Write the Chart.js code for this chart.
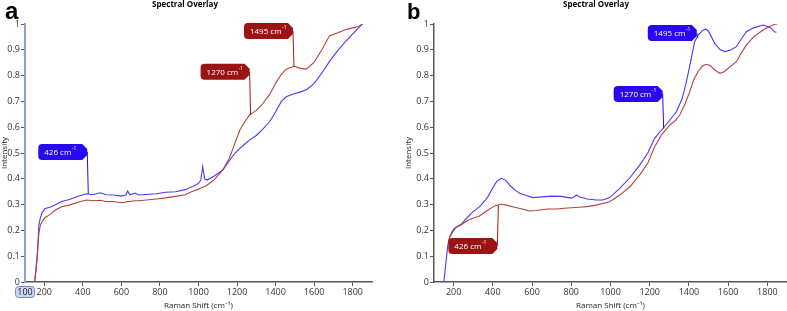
<!DOCTYPE html>
<html lang="en">
<head>
  <meta charset="UTF-8">
  <title>Spectral Overlay</title>
  <script src="https://cdn.jsdelivr.net/npm/chart.js"></script>
  <style>
    body { margin: 0; background: #fff; }
    .panel { position: absolute; top: 0; }
    #panelA { left: 0; }
    #panelB { left: 390px; }
  </style>
</head>
<body>
<div class="panel" id="panelA"><canvas id="chartA" width="390" height="311"></canvas></div>
<div class="panel" id="panelB"><canvas id="chartB" width="397" height="311"></canvas></div>

<script>
  // tick labels
  const xTicks = [200, 400, 600, 800, 1000, 1200, 1400, 1600, 1800];
  const yTicks = [0, 0.1, 0.2, 0.3, 0.4, 0.5, 0.6, 0.7, 0.8, 0.9, 1];
  const yLabels = ['0', '0.1', '0.2', '0.3', '0.4', '0.5', '0.6', '0.7', '0.8', '0.9', '1'];

  // panel a  (Raman shift, cm-1)
  const aShift = [150, 158, 165, 172, 180, 190, 205, 230, 260, 290, 330, 380, 420, 450, 490, 520, 560, 600,
    625, 632, 645, 670, 690, 730, 780, 830, 880, 930, 970, 1000, 1012, 1022, 1032, 1045, 1080, 1126, 1160,
    1190, 1215, 1240, 1264, 1300, 1330, 1370, 1400, 1430, 1455, 1495, 1530, 1560, 1600, 1640, 1680, 1720,
    1760, 1800, 1830, 1850];
  const aBlue = [0, 0.06, 0.12, 0.22, 0.25, 0.27, 0.285, 0.29, 0.3, 0.312, 0.32, 0.333, 0.342, 0.338, 0.346,
    0.338, 0.337, 0.333, 0.338, 0.353, 0.338, 0.345, 0.337, 0.339, 0.342, 0.348, 0.35, 0.358, 0.37, 0.382,
    0.395, 0.447, 0.4, 0.395, 0.41, 0.434, 0.47, 0.5, 0.518, 0.535, 0.55, 0.568, 0.59, 0.622, 0.66, 0.7,
    0.718, 0.73, 0.737, 0.745, 0.77, 0.81, 0.855, 0.895, 0.93, 0.962, 0.985, 1.0];
  const aRed = [0, 0.05, 0.11, 0.19, 0.22, 0.235, 0.25, 0.262, 0.28, 0.292, 0.298, 0.31, 0.318, 0.315, 0.317,
    0.312, 0.312, 0.307, 0.31, 0.312, 0.312, 0.315, 0.315, 0.318, 0.322, 0.326, 0.332, 0.338, 0.352, 0.36,
    0.364, 0.367, 0.37, 0.376, 0.395, 0.434, 0.48, 0.54, 0.59, 0.62, 0.647, 0.665, 0.688, 0.728, 0.77, 0.805,
    0.825, 0.836, 0.828, 0.825, 0.852, 0.9, 0.955, 0.965, 0.978, 0.985, 0.99, 1.0];

  // panel b
  const bBlueShift = [150, 160, 170, 180, 200, 214, 240, 270, 298, 330, 360, 375, 400, 420, 443, 465, 490,
    515, 537, 570, 604, 650, 700, 750, 800, 815, 826, 840, 880, 928, 960, 996, 1047, 1100, 1149, 1190, 1225,
    1268, 1300, 1336, 1365, 1387, 1410, 1429, 1450, 1470, 1485, 1500, 1531, 1560, 1583, 1610, 1642, 1665,
    1693, 1730, 1778, 1800, 1821, 1835, 1846];
  const bBlue = [0, 0.07, 0.14, 0.176, 0.2, 0.213, 0.225, 0.25, 0.272, 0.29, 0.315, 0.331, 0.365, 0.39, 0.402,
    0.395, 0.372, 0.355, 0.344, 0.335, 0.327, 0.33, 0.333, 0.332, 0.325, 0.33, 0.337, 0.33, 0.322, 0.318,
    0.318, 0.327, 0.363, 0.405, 0.453, 0.5, 0.557, 0.596, 0.625, 0.66, 0.71, 0.776, 0.86, 0.931, 0.96, 0.975,
    0.98, 0.972, 0.925, 0.9, 0.893, 0.898, 0.912, 0.94, 0.97, 0.985, 0.996, 0.99, 0.983, 0.97, 0.968];
  const bRedShift = [175, 185, 200, 214, 240, 270, 298, 330, 375, 410, 443, 470, 510, 550, 588, 620, 680, 724,
    780, 840, 880, 928, 996, 1047, 1100, 1149, 1190, 1225, 1260, 1302, 1330, 1353, 1380, 1404, 1425, 1446,
    1470, 1490, 1510, 1531, 1557, 1580, 1610, 1642, 1665, 1693, 1730, 1778, 1810, 1838, 1850];
  const bRed = [0.16, 0.185, 0.205, 0.213, 0.222, 0.238, 0.247, 0.255, 0.279, 0.295, 0.302, 0.298, 0.29, 0.283,
    0.275, 0.277, 0.283, 0.283, 0.287, 0.29, 0.292, 0.298, 0.311, 0.337, 0.37, 0.415, 0.46, 0.524, 0.57,
    0.608, 0.625, 0.647, 0.69, 0.738, 0.785, 0.815, 0.838, 0.844, 0.838, 0.822, 0.809, 0.815, 0.835, 0.854,
    0.885, 0.919, 0.95, 0.977, 0.99, 0.999, 1.0];

  // peak call-outs: label, which trace, where the tag tip sits (shift, intensity)
  const aMarks = [426, 1270, 1495];
  const aMarkTrace = ['blue', 'red', 'red'];
  const aMarkTip = [423, 1265, 1490];
  const aMarkLevel = [0.504, 0.815, 0.973];
  const bMarks = [426, 1270, 1495];
  const bMarkTrace = ['red', 'blue', 'blue'];
  const bMarkTip = [423, 1266, 1440];
  const bMarkLevel = [0.14, 0.729, 0.965];

  const BLUE = '#4a38ff';
  const RED = '#b3413f';
  const FLAG_BLUE = '#2808f0';
  const FLAG_RED = '#9b1414';
  const FONT = '"Open Sans", "Liberation Sans", sans-serif';

  function zip(xs, ys) {
    return xs.map((x, i) => ({ x: x, y: ys[i] }));
  }

  function interp(xs, ys, x) {
    for (let i = 1; i < xs.length; i++) {
      if (xs[i] >= x) {
        const t = (x - xs[i - 1]) / (xs[i] - xs[i - 1]);
        return ys[i - 1] + t * (ys[i] - ys[i - 1]);
      }
    }
    return ys[ys.length - 1];
  }

  function drawFlag(ctx, tipX, tipY, ptX, ptY, label, color) {
    const w = 49, h = 16, cut = 5, r = 4;
    const left = tipX - w, top = tipY - h / 2, bottom = tipY + h / 2;
    // leader
    ctx.strokeStyle = color;
    ctx.lineWidth = 1;
    ctx.beginPath();
    ctx.moveTo(tipX, tipY);
    ctx.lineTo(ptX, ptY);
    ctx.stroke();
    // tag body
    ctx.fillStyle = color;
    ctx.beginPath();
    ctx.moveTo(left + r, top);
    ctx.lineTo(tipX - cut, top);
    ctx.lineTo(tipX, top + cut);
    ctx.lineTo(tipX, bottom - cut);
    ctx.lineTo(tipX - cut, bottom);
    ctx.lineTo(left + r, bottom);
    ctx.quadraticCurveTo(left, bottom, left, bottom - r);
    ctx.lineTo(left, top + r);
    ctx.quadraticCurveTo(left, top, left + r, top);
    ctx.fill();
    // text
    ctx.fillStyle = '#fff';
    ctx.textBaseline = 'middle';
    ctx.textAlign = 'left';
    ctx.font = '8px ' + FONT;
    const tx = left + 6;
    ctx.fillText(label + ' cm', tx, tipY + 0.5);
    const tw = ctx.measureText(label + ' cm').width;
    ctx.font = '5px ' + FONT;
    ctx.fillText('-1', tx + tw + 0.5, tipY - 3);
  }

  function makeChart(id, cfg) {
    const traces = {
      blue: { xs: cfg.blueX, ys: cfg.blueY },
      red: { xs: cfg.redX, ys: cfg.redY }
    };

    const extras = {
      id: 'extras',
      afterDraw(chart) {
        const ctx = chart.ctx;
        const xs = chart.scales.x, ys = chart.scales.y;
        ctx.save();
        // panel letter
        ctx.fillStyle = '#000';
        ctx.textBaseline = 'alphabetic';
        ctx.textAlign = 'left';
        ctx.font = 'bold ' + cfg.letterSize + 'px "Liberation Sans", Arial, sans-serif';
        ctx.fillText(cfg.letter, cfg.letterX, 19);
        // title
        ctx.font = 'bold 8px ' + FONT;
        ctx.textAlign = 'center';
        ctx.fillText('Spectral Overlay', cfg.titleX, 7);
        // call-outs
        cfg.marks.forEach((m, i) => {
          const tr = traces[cfg.markTrace[i]];
          const color = cfg.markTrace[i] === 'blue' ? FLAG_BLUE : FLAG_RED;
          const tip = cfg.markTip[i];
          const px = xs.getPixelForValue(tip);
          const py = ys.getPixelForValue(interp(tr.xs, tr.ys, tip));
          const fy = ys.getPixelForValue(cfg.markLevel[i]);
          drawFlag(ctx, px, fy, px + 1, py, String(m), color);
        });
        // highlighted axis start value
        if (cfg.startBox) {
          const bx = xs.getPixelForValue(100);
          ctx.fillStyle = '#c9d6f3';
          ctx.strokeStyle = '#7388c8';
          ctx.lineWidth = 1;
          ctx.beginPath();
          ctx.roundRect(bx - 9.5, 286.5, 19, 11, 3);
          ctx.fill();
          ctx.stroke();
          ctx.fillStyle = '#222';
          ctx.font = '9px ' + FONT;
          ctx.textAlign = 'center';
          ctx.textBaseline = 'middle';
          ctx.fillText('100', bx, 292.5);
        }
        ctx.restore();
      }
    };

    return new Chart(document.getElementById(id), {
      type: 'scatter',
      data: {
        datasets: [
          { data: zip(cfg.redX, cfg.redY), borderColor: RED, showLine: true, borderWidth: 1.1, pointRadius: 0 },
          { data: zip(cfg.blueX, cfg.blueY), borderColor: BLUE, showLine: true, borderWidth: 1.1, pointRadius: 0 }
        ]
      },
      options: {
        responsive: false,
        devicePixelRatio: 1,
        animation: false,
        layout: { padding: { top: 24, right: cfg.padRight, left: cfg.padLeft, bottom: 0 } },
        plugins: { legend: { display: false }, tooltip: { enabled: false } },
        scales: {
          x: {
            type: 'linear',
            min: 100,
            max: 1900,
            afterBuildTicks: (s) => { s.ticks = xTicks.map(v => ({ value: v })); },
            afterFit: (s) => { s.height = 29; },
            grid: { drawOnChartArea: false, drawTicks: true, tickLength: 4, color: '#555' },
            border: { color: '#555', width: 1.5 },
            ticks: { color: '#333', font: { family: FONT, size: 9 }, padding: 1, maxRotation: 0, callback: (v) => String(v) },
            title: { display: true, text: 'Raman Shift (cm⁻¹)', color: '#222', font: { family: FONT, size: 8 }, padding: { top: 0, bottom: 0 } }
          },
          y: {
            min: 0,
            max: 1,
            afterBuildTicks: (s) => { s.ticks = yTicks.map(v => ({ value: v })); },
            afterFit: (s) => { s.width = cfg.yWidth; },
            grid: { drawOnChartArea: false, drawTicks: true, tickLength: 4, color: '#555' },
            border: { color: cfg.yAxisColor, width: cfg.yAxisWidth },
            ticks: { color: '#333', font: { family: FONT, size: 9 }, padding: 1, callback: (v, i) => yLabels[i] },
            title: { display: true, text: 'Intensity', color: '#222', font: { family: FONT, size: 8 }, padding: 0 }
          }
        }
      },
      plugins: [extras]
    });
  }

  makeChart('chartA', {
    blueX: aShift, blueY: aBlue, redX: aShift, redY: aRed,
    marks: aMarks, markTrace: aMarkTrace, markTip: aMarkTip, markLevel: aMarkLevel,
    letter: 'a', letterSize: 24, letterX: 5, titleX: 185,
    padLeft: 0, padRight: 18, yWidth: 25,
    yAxisColor: '#8e9ed8', yAxisWidth: 2, startBox: true
  });

  makeChart('chartB', {
    blueX: bBlueShift, blueY: bBlue, redX: bRedShift, redY: bRed,
    marks: bMarks, markTrace: bMarkTrace, markTip: bMarkTip, markLevel: bMarkLevel,
    letter: 'b', letterSize: 22, letterX: 17, titleX: 206,
    padLeft: 14, padRight: 0, yWidth: 30,
    yAxisColor: '#555', yAxisWidth: 1.5, startBox: false
  });
</script>
</body>
</html>
